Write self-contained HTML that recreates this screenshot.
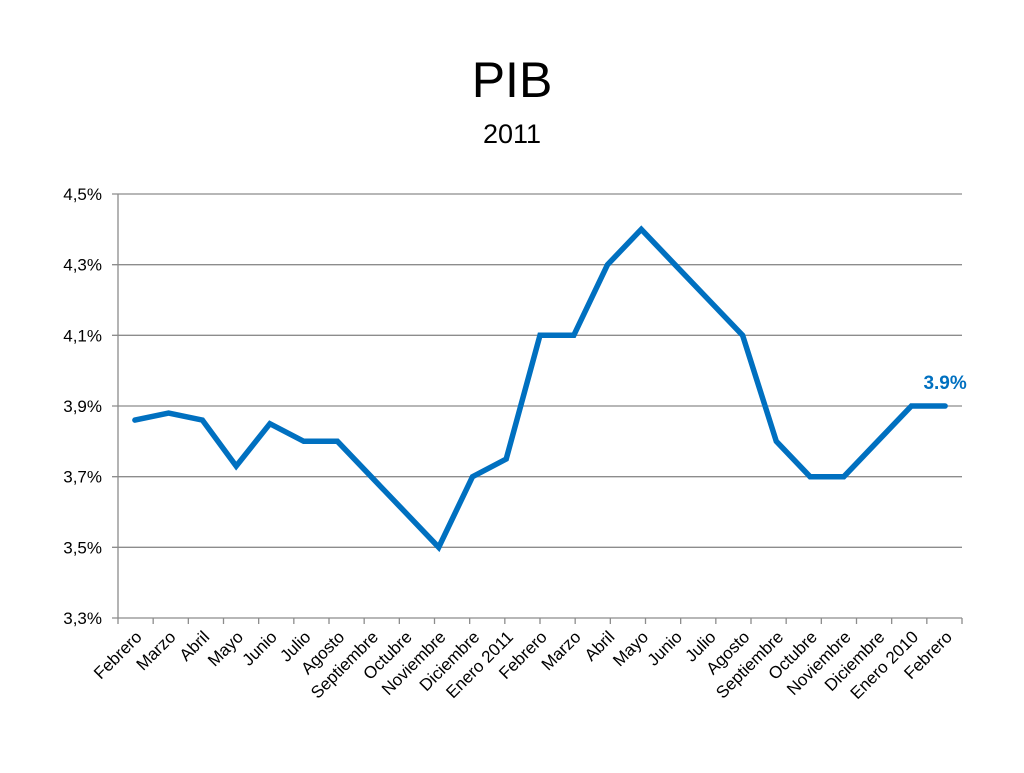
<!DOCTYPE html>
<html><head><meta charset="utf-8"><style>
body{margin:0;background:#fff;width:1024px;height:768px;overflow:hidden;font-family:"Liberation Sans",Arial,sans-serif}
</style></head><body>
<svg width="1024" height="768">
<text x="512" y="97" text-anchor="middle" font-size="50" fill="#000">PIB</text>
<text x="512" y="143" text-anchor="middle" font-size="27" fill="#000">2011</text>
<g id="grid"></g><g id="axes"></g><g id="series"></g>
</svg>
<script>
const categories=["Febrero","Marzo","Abril","Mayo","Junio","Julio","Agosto","Septiembre","Octubre","Noviembre","Diciembre","Enero 2011","Febrero","Marzo","Abril","Mayo","Junio","Julio","Agosto","Septiembre","Octubre","Noviembre","Diciembre","Enero 2010","Febrero"];
const values=[3.86,3.88,3.86,3.73,3.85,3.80,3.80,3.70,3.60,3.50,3.70,3.75,4.10,4.10,4.30,4.40,4.30,4.20,4.10,3.80,3.70,3.70,3.80,3.90,3.90];
const yTicks=[3.3,3.5,3.7,3.9,4.1,4.3,4.5];
const yTickLabels=["3,3%","3,5%","3,7%","3,9%","4,1%","4,3%","4,5%"];
const dataLabel="3.9%";
const NS="http://www.w3.org/2000/svg";
const X0=118,X1=962,Y0=618,Y1=194,YMIN=3.3,YMAX=4.5;
function ys(v){return Y0-(v-YMIN)/(YMAX-YMIN)*(Y0-Y1);}
function xp(i){return X0+(X1-X0)*(i+0.5)/categories.length;}
function mk(t,a,p){const e=document.createElementNS(NS,t);for(const k in a)e.setAttribute(k,a[k]);p.appendChild(e);return e;}
const grid=document.getElementById('grid'),axes=document.getElementById('axes'),ser=document.getElementById('series');
yTicks.forEach((v,i)=>{
 const l=mk('line',{x1:X0-6,x2:X1,y1:ys(v),y2:ys(v),stroke:'#8c8c8c','stroke-width':1.3},grid);
 
 
 const t=mk('text',{x:102,y:ys(v)+6,'text-anchor':'end','font-size':17,fill:'#000'},axes);
 t.textContent=yTickLabels[i];
 
 
});
const ya=mk('line',{x1:X0,x2:X0,y1:Y1,y2:Y0,stroke:'#8c8c8c','stroke-width':1.3},axes);


const sp=(X1-X0)/24;
for(let k=0;k<=24;k++){
 const x=X0+k*sp;
 const tk=mk('line',{x1:x,x2:x,y1:Y0,y2:Y0+6,stroke:'#8c8c8c','stroke-width':1.3},axes);
 
 
}
categories.forEach((c,i)=>{
 const cx=xp(i);
 const t=mk('text',{x:cx+8,y:Y0+20,'text-anchor':'end','font-size':17,fill:'#000',transform:`rotate(-45 ${cx+8} ${Y0+20})`},axes);
 t.textContent=c;
 
 
});
const pts=values.map((v,i)=>xp(i).toFixed(1)+','+ys(v).toFixed(1)).join(' ');
const pl=mk('polyline',{points:pts,fill:'none',stroke:'#0070C0','stroke-width':5.5,'stroke-linejoin':'miter','stroke-linecap':'round'},ser);


const li=values.length-1;
const dl=mk('text',{x:xp(li),y:ys(values[li])-17,'text-anchor':'middle','font-size':19,'font-weight':'bold',fill:'#0070C0'},ser);
dl.textContent=dataLabel;


</script>
</body></html>
